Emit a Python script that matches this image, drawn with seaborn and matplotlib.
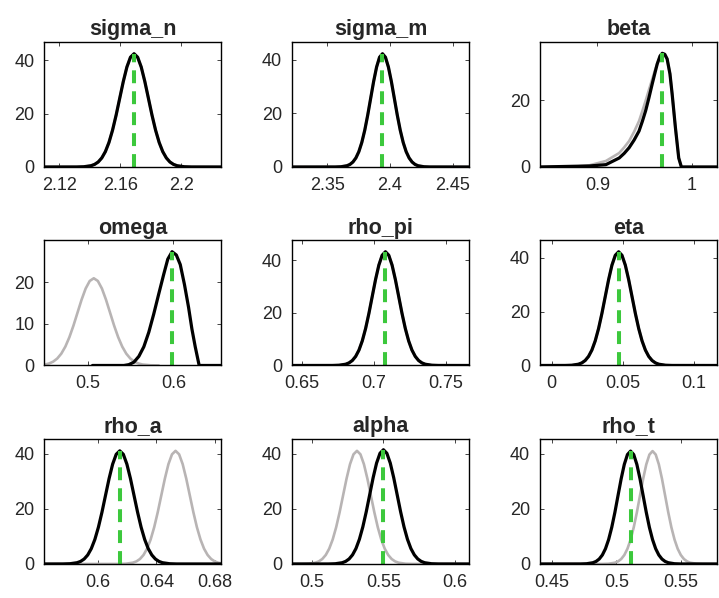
"""
Prior / posterior densities of the estimated parameters (3x3 grid).
grey = prior, black = posterior, green dashed = posterior mode.
"""
import matplotlib
matplotlib.use("Agg")
import matplotlib.pyplot as plt
import seaborn as sns

sns.set_theme(style="white")
plt.rcParams["font.family"] = ["Liberation Sans", "DejaVu Sans"]
plt.rcParams["lines.solid_joinstyle"] = "round"
plt.rcParams["lines.solid_capstyle"] = "round"

GREY  = "#b8b4b4"
BLACK = "black"
GREEN = "#3cc83c"

names = ["sigma_n", "sigma_m", "beta", "omega", "rho_pi", "eta",
         "rho_a", "alpha", "rho_t"]

# ---- densities ---------------------------------------------------------
sigma_n_x = [2.110, 2.1314, 2.1361, 2.1408, 2.14315, 2.1455, 2.14785, 2.1502, 2.15255, 2.1549,
             2.15725, 2.1596, 2.16195, 2.1643, 2.16665, 2.169, 2.17135, 2.1737, 2.17605, 2.1784,
             2.18075, 2.1831, 2.18545, 2.1878, 2.19015, 2.1925, 2.19485, 2.1972, 2.2019, 2.2066,
             2.226]
sigma_n_post = [0, 0.01, 0.09, 0.47, 0.97, 1.86, 3.38, 5.74, 9.17, 13.77,
                19.41, 25.72, 32.0, 37.42, 41.09, 42.4, 41.09, 37.42, 32.0, 25.72,
                19.41, 13.77, 9.17, 5.74, 3.38, 1.86, 0.97, 0.47, 0.09, 0.01,
                0]
sigma_n_prior = sigma_n_post

sigma_m_x = [2.322, 2.3564, 2.3611, 2.3658, 2.36815, 2.3705, 2.37285, 2.3752, 2.37755, 2.3799,
             2.38225, 2.3846, 2.38695, 2.3893, 2.39165, 2.394, 2.39635, 2.3987, 2.40105, 2.4034,
             2.40575, 2.4081, 2.41045, 2.4128, 2.41515, 2.4175, 2.41985, 2.4222, 2.4269, 2.4316,
             2.4627]
sigma_m_post = [0, 0.01, 0.09, 0.47, 0.96, 1.86, 3.37, 5.72, 9.15, 13.73,
                19.37, 25.65, 31.93, 37.33, 41.0, 42.3, 41.0, 37.33, 31.93, 25.65,
                19.37, 13.73, 9.15, 5.72, 3.37, 1.86, 0.96, 0.47, 0.09, 0.01,
                0]
sigma_m_prior = sigma_m_post

beta_post_x = [0.839, 0.8916, 0.9091, 0.9232, 0.9285, 0.9337, 0.9390, 0.9442, 0.9477, 0.9512,
               0.9547, 0.9582, 0.9610, 0.9635, 0.9665, 0.9688, 0.9715, 0.9740, 0.9770, 0.9793,
               0.9828, 0.9863, 0.9891, 1.0267]
beta_post = [0, 0.3, 0.7, 2.7, 4.1, 5.8, 8.1, 10.8, 13.7, 16.9,
             20.8, 25.0, 28.2, 31.0, 33.4, 34.2, 33.9, 32.5, 28.0, 22.0,
             11.8, 2.7, 0, 0]
beta_prior_x = [0.839, 0.880, 0.8916, 0.9091, 0.9232, 0.9285, 0.9337, 0.9390, 0.9442, 0.9477,
                0.9512, 0.9547, 0.9582, 0.9610, 0.9635, 0.9665, 0.9688, 0.9715, 0.9740, 0.9770,
                0.9793, 0.9828, 0.9863, 0.9891, 1.0267]
beta_prior = [0, 0.2, 0.5, 1.8, 4.2, 5.9, 7.8, 10.6, 13.8, 16.8,
              19.9, 23.2, 26.4, 29.0, 31.0, 33.2, 34.0, 33.7, 32.5, 28.0,
              22.0, 11.8, 2.7, 0, 0]

omega_post_x = [0.5055, 0.5422, 0.5480, 0.5539, 0.5597, 0.5655, 0.5713, 0.5771, 0.5829, 0.5887,
                0.5935, 0.5985, 0.6035, 0.6081, 0.6130, 0.6178, 0.6217, 0.6256, 0.6302, 0.6558]
omega_post = [0, 0, 0.2, 0.8, 2.2, 4.5, 8.0, 12.4, 17.2, 21.9,
              25.6, 27.4, 26.6, 24.3, 19.5, 14.0, 8.8, 4.5, 0, 0]
omega_prior_x = [0.4488, 0.45, 0.45475, 0.4595, 0.46425, 0.469, 0.47375, 0.4785, 0.48325, 0.488,
                 0.49275, 0.4975, 0.50225, 0.507, 0.51175, 0.5165, 0.52125, 0.526, 0.53075, 0.5355,
                 0.54025, 0.545, 0.54975, 0.5545, 0.55925, 0.564, 0.5735, 0.583]
omega_prior = [0.21, 0.23, 0.48, 0.92, 1.67, 2.84, 4.54, 6.82, 9.61, 12.74,
               15.85, 18.53, 20.35, 21.0, 20.35, 18.53, 15.85, 12.74, 9.61, 6.82,
               4.54, 2.84, 1.67, 0.92, 0.48, 0.23, 0.05, 0.01]

rho_pi_x = [0.643, 0.6712, 0.6758, 0.6804, 0.6827, 0.685, 0.6873, 0.6896, 0.6919, 0.6942,
            0.6965, 0.6988, 0.7011, 0.7034, 0.7057, 0.708, 0.7103, 0.7126, 0.7149, 0.7172,
            0.7195, 0.7218, 0.7241, 0.7264, 0.7287, 0.731, 0.7333, 0.7356, 0.7402, 0.7448,
            0.766]
rho_pi_post = [0, 0.01, 0.10, 0.48, 0.99, 1.90, 3.45, 5.86, 9.37, 14.06,
               19.82, 26.26, 32.68, 38.21, 41.97, 43.3, 41.97, 38.21, 32.68, 26.26,
               19.82, 14.06, 9.37, 5.86, 3.45, 1.90, 0.99, 0.48, 0.10, 0.01,
               0]
rho_pi_prior = rho_pi_post

eta_x = [-0.0084, 0.0094, 0.0141, 0.0188, 0.02115, 0.0235, 0.02585, 0.0282, 0.03055, 0.0329,
         0.03525, 0.0376, 0.03995, 0.0423, 0.04465, 0.047, 0.04935, 0.0517, 0.05405, 0.0564,
         0.05875, 0.0611, 0.06345, 0.0658, 0.06815, 0.0705, 0.07285, 0.0752, 0.0799, 0.0846,
         0.116]
eta_post = [0, 0.01, 0.09, 0.47, 0.96, 1.85, 3.36, 5.71, 9.13, 13.70,
            19.32, 25.59, 31.85, 37.24, 40.9, 42.2, 40.9, 37.24, 31.85, 25.59,
            19.32, 13.70, 9.13, 5.71, 3.36, 1.85, 0.96, 0.47, 0.09, 0.01,
            0]
eta_prior = eta_post

rho_a_post_x = [0.5634, 0.5762, 0.58105, 0.5859, 0.58833, 0.59075, 0.59318, 0.5956, 0.59803, 0.60045,
                0.60288, 0.6053, 0.60773, 0.61015, 0.61258, 0.615, 0.61743, 0.61985, 0.62228, 0.6247,
                0.62713, 0.62955, 0.63198, 0.6344, 0.63683, 0.63925, 0.64168, 0.6441, 0.64895, 0.6538,
                0.684]
rho_a_post = [0, 0.01, 0.09, 0.46, 0.93, 1.80, 3.26, 5.55, 8.87, 13.31,
              18.77, 24.87, 30.95, 36.18, 39.74, 41.0, 39.74, 36.18, 30.95, 24.87,
              18.77, 13.31, 8.87, 5.55, 3.26, 1.80, 0.93, 0.46, 0.09, 0.01,
              0]
rho_a_prior_x = [0.5634, 0.6142, 0.61905, 0.6239, 0.62633, 0.62875, 0.63118, 0.6336, 0.63603, 0.63845,
                 0.64088, 0.6433, 0.64573, 0.64815, 0.65058, 0.653, 0.65543, 0.65785, 0.66028, 0.6627,
                 0.66513, 0.66755, 0.66998, 0.6724, 0.67483, 0.67725, 0.67968, 0.6821, 0.684]
rho_a_prior = [0, 0.01, 0.09, 0.46, 0.93, 1.80, 3.26, 5.55, 8.87, 13.31,
               18.77, 24.87, 30.95, 36.18, 39.74, 41.0, 39.74, 36.18, 30.95, 24.87,
               18.77, 13.31, 8.87, 5.55, 3.26, 1.80, 0.93, 0.46, 0.25]

alpha_post_x = [0.486, 0.5116, 0.5164, 0.5212, 0.5236, 0.526, 0.5284, 0.5308, 0.5332, 0.5356,
                0.538, 0.5404, 0.5428, 0.5452, 0.5476, 0.55, 0.5524, 0.5548, 0.5572, 0.5596,
                0.562, 0.5644, 0.5668, 0.5692, 0.5716, 0.574, 0.5764, 0.5788, 0.5836, 0.5884,
                0.6098]
alpha_post = [0, 0.01, 0.09, 0.46, 0.94, 1.82, 3.30, 5.60, 8.95, 13.44,
              18.95, 25.11, 31.25, 36.54, 40.12, 41.4, 40.12, 36.54, 31.25, 25.11,
              18.95, 13.44, 8.95, 5.60, 3.30, 1.82, 0.94, 0.46, 0.09, 0.01,
              0]
alpha_prior_x = [0.486, 0.4927, 0.49755, 0.5024, 0.50483, 0.50725, 0.50968, 0.5121, 0.51453, 0.51695,
                 0.51938, 0.5218, 0.52423, 0.52665, 0.52908, 0.5315, 0.53393, 0.53635, 0.53878, 0.5412,
                 0.54363, 0.54605, 0.54848, 0.5509, 0.55333, 0.55575, 0.55818, 0.5606, 0.56545, 0.5703,
                 0.6098]
alpha_prior = [0, 0.01, 0.09, 0.46, 0.93, 1.80, 3.26, 5.55, 8.87, 13.31,
               18.77, 24.87, 30.95, 36.18, 39.74, 41.0, 39.74, 36.18, 30.95, 24.87,
               18.77, 13.31, 8.87, 5.55, 3.26, 1.80, 0.93, 0.46, 0.09, 0.01,
               0]

rho_t_post_x = [0.4408, 0.4722, 0.47705, 0.4819, 0.48433, 0.48675, 0.48918, 0.4916, 0.49403, 0.49645,
                0.49888, 0.5013, 0.50373, 0.50615, 0.50858, 0.511, 0.51343, 0.51585, 0.51828, 0.5207,
                0.52313, 0.52555, 0.52798, 0.5304, 0.53283, 0.53525, 0.53768, 0.5401, 0.54495, 0.5498,
                0.5777]
rho_t_post = [0, 0.01, 0.09, 0.46, 0.93, 1.80, 3.26, 5.55, 8.87, 13.31,
              18.77, 24.87, 30.95, 36.18, 39.74, 41.0, 39.74, 36.18, 30.95, 24.87,
              18.77, 13.31, 8.87, 5.55, 3.26, 1.80, 0.93, 0.46, 0.09, 0.01,
              0]
rho_t_prior_x = [0.4408, 0.4892, 0.49405, 0.4989, 0.50133, 0.50375, 0.50618, 0.5086, 0.51103, 0.51345,
                 0.51588, 0.5183, 0.52073, 0.52315, 0.52558, 0.528, 0.53043, 0.53285, 0.53528, 0.5377,
                 0.54013, 0.54255, 0.54498, 0.5474, 0.54983, 0.55225, 0.55468, 0.5571, 0.56195, 0.5668,
                 0.5777]
rho_t_prior = [0, 0.01, 0.09, 0.46, 0.93, 1.80, 3.26, 5.55, 8.87, 13.31,
               18.77, 24.87, 30.95, 36.18, 39.74, 41.0, 39.74, 36.18, 30.95, 24.87,
               18.77, 13.31, 8.87, 5.55, 3.26, 1.80, 0.93, 0.46, 0.09, 0.01,
               0]

# posterior modes and density at the mode
modes     = [2.169, 2.394, 0.969, 0.599, 0.708, 0.047, 0.615, 0.550, 0.511]
mode_dens = [42.4, 42.3, 34.2, 27.4, 43.3, 42.2, 41.0, 41.4, 41.0]

# axis settings
xlims  = [(2.110, 2.226), (2.322, 2.4627), (0.839, 1.0267), (0.4488, 0.6558), (0.643, 0.766),
          (-0.0084, 0.116), (0.5634, 0.684), (0.486, 0.6098), (0.4408, 0.5777)]
xticks = [[2.12, 2.16, 2.2], [2.35, 2.4, 2.45], [0.9, 1], [0.5, 0.6], [0.65, 0.7, 0.75],
          [0, 0.05, 0.1], [0.6, 0.64, 0.68], [0.5, 0.55, 0.6], [0.45, 0.5, 0.55]]
xlabels = [["2.12", "2.16", "2.2"], ["2.35", "2.4", "2.45"], ["0.9", "1"], ["0.5", "0.6"],
           ["0.65", "0.7", "0.75"], ["0", "0.05", "0.1"], ["0.6", "0.64", "0.68"],
           ["0.5", "0.55", "0.6"], ["0.45", "0.5", "0.55"]]
ytops  = [46.8, 46.7, 37.6, 30.1, 47.6, 46.4, 45.3, 45.3, 45.4]
yticks = [[0, 20, 40], [0, 20, 40], [0, 20], [0, 10, 20], [0, 20, 40],
          [0, 20, 40], [0, 20, 40], [0, 20, 40], [0, 20, 40]]

curves = [
    (sigma_n_x, sigma_n_prior, sigma_n_x, sigma_n_post),
    (sigma_m_x, sigma_m_prior, sigma_m_x, sigma_m_post),
    (beta_prior_x, beta_prior, beta_post_x, beta_post),
    (omega_prior_x, omega_prior, omega_post_x, omega_post),
    (rho_pi_x, rho_pi_prior, rho_pi_x, rho_pi_post),
    (eta_x, eta_prior, eta_x, eta_post),
    (rho_a_prior_x, rho_a_prior, rho_a_post_x, rho_a_post),
    (alpha_prior_x, alpha_prior, alpha_post_x, alpha_post),
    (rho_t_prior_x, rho_t_prior, rho_t_post_x, rho_t_post),
]

fig, axes = plt.subplots(3, 3, figsize=(7.19, 5.98), dpi=100)
fig.subplots_adjust(left=0.0612, right=0.997, top=0.9298, bottom=0.0569,
                    wspace=0.40, hspace=0.588)

for i, ax in enumerate(axes.flat):
    px, py, qx, qy = curves[i]
    sns.lineplot(x=px, y=py, ax=ax, color=GREY, lw=1.9, sort=False, estimator=None)
    sns.lineplot(x=qx, y=qy, ax=ax, color=BLACK, lw=2.3, sort=False, estimator=None)
    ax.plot([modes[i], modes[i]], [0, mode_dens[i]], color=GREEN, lw=2.9,
            dashes=(3.2, 2.0))
    ax.set_xlim(*xlims[i])
    ax.set_ylim(0, ytops[i])
    ax.set_xticks(xticks[i])
    ax.set_xticklabels(xlabels[i])
    ax.set_yticks(yticks[i])
    ax.set_title(names[i], fontsize=15.5, fontweight="bold", pad=5)
    ax.tick_params(direction="in", length=3, width=0.6, labelsize=13,
                   labelcolor="#262626", top=True, right=True, bottom=True, left=True,
                   pad=7)
    for s in ax.spines.values():
        s.set_color("black")
        s.set_linewidth(1.0)

fig.savefig("out.png", dpi=100)
